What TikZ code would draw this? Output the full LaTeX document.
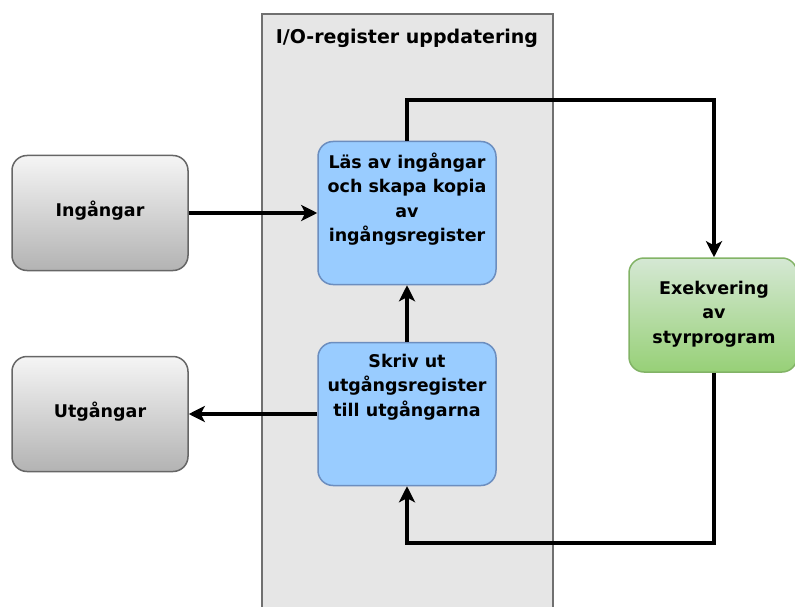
\documentclass[tikz,border=0pt]{standalone}
\usepackage{fontspec}
\setmainfont{DejaVu Sans}
\usetikzlibrary{arrows.meta}

\definecolor{paneFill}{HTML}{E6E6E6}
\definecolor{paneLine}{HTML}{707070}
\definecolor{grayTop}{HTML}{F5F5F5}
\definecolor{grayBot}{HTML}{B3B3B3}
\definecolor{grayLine}{HTML}{666666}
\definecolor{blueFill}{HTML}{99CCFF}
\definecolor{blueLine}{HTML}{6C8EBF}
\definecolor{greenTop}{HTML}{D5E8D4}
\definecolor{greenBot}{HTML}{97D077}
\definecolor{greenLine}{HTML}{82B366}

\newcommand{\boxfont}{\fontsize{17.5}{24.5}\selectfont\bfseries}
\newcommand{\titlefont}{\fontsize{19}{23}\selectfont\bfseries}

\tikzset{
  box/.style={rounded corners=15pt, line width=1.5pt, minimum width=176pt, inner sep=0pt},
  iobox/.style={box, draw=grayLine, top color=grayTop, bottom color=grayBot, minimum height=115pt},
  stepbox/.style={box, draw=blueLine, fill=blueFill, minimum width=178pt, minimum height=143pt},
  progbox/.style={box, draw=greenLine, top color=greenTop, bottom color=greenBot, minimum width=168pt, minimum height=114pt},
  boxtext/.style={font=\boxfont, align=center, inner sep=0pt},
  flow/.style={line width=3.6pt, -{Stealth[length=16pt, width=16pt, inset=4pt]}}
}

\begin{document}
\begin{tikzpicture}[x=1pt, y=-1pt]
  \useasboundingbox (0,0) rectangle (795,607);
  \clip (0,0) rectangle (795,607);

  % I/O update pane
  \draw[fill=paneFill, draw=paneLine, line width=1.8pt] (262,14) rectangle (553,630);
  \node[font=\titlefont, inner sep=0pt] (panetitle) at (407,38) {I/O-register uppdatering};

  % boxes
  \node[iobox] (ing) at (100,213) {};
  \node[boxtext] (ingtext) at (100,211) {Ingångar};
  \node[iobox] (utg) at (100,414) {};
  \node[boxtext] (utgtext) at (100,412) {Utgångar};

  \node[stepbox] (las) at (407,213) {};
  \node[boxtext] (lastext) at (407,199) {Läs av ingångar\\och skapa kopia\\av\\ingångsregister};
  \node[stepbox] (skriv) at (407,414) {};
  \node[boxtext] (skrivtext) at (407,387) {Skriv ut\\utgångsregister\\till utgångarna};

  \node[progbox] (exe) at (713,315) {};
  \node[boxtext] (exetext) at (714,314) {Exekvering\\av\\styrprogram};

  % connectors
  \coordinate (topturn) at (714,100);
  \coordinate (botturn) at (714,543);
  \draw[flow] (ing.east) -- (las.west);
  \draw[flow] (skriv.west) -- (utg.east);
  \draw[flow] (skriv.north) -- (las.south);
  \draw[flow] (las.north) |- (topturn) -- (topturn |- exe.north);
  \draw[flow] (topturn |- exe.south) -- (botturn) -| (skriv.south);
\end{tikzpicture}
\end{document}
